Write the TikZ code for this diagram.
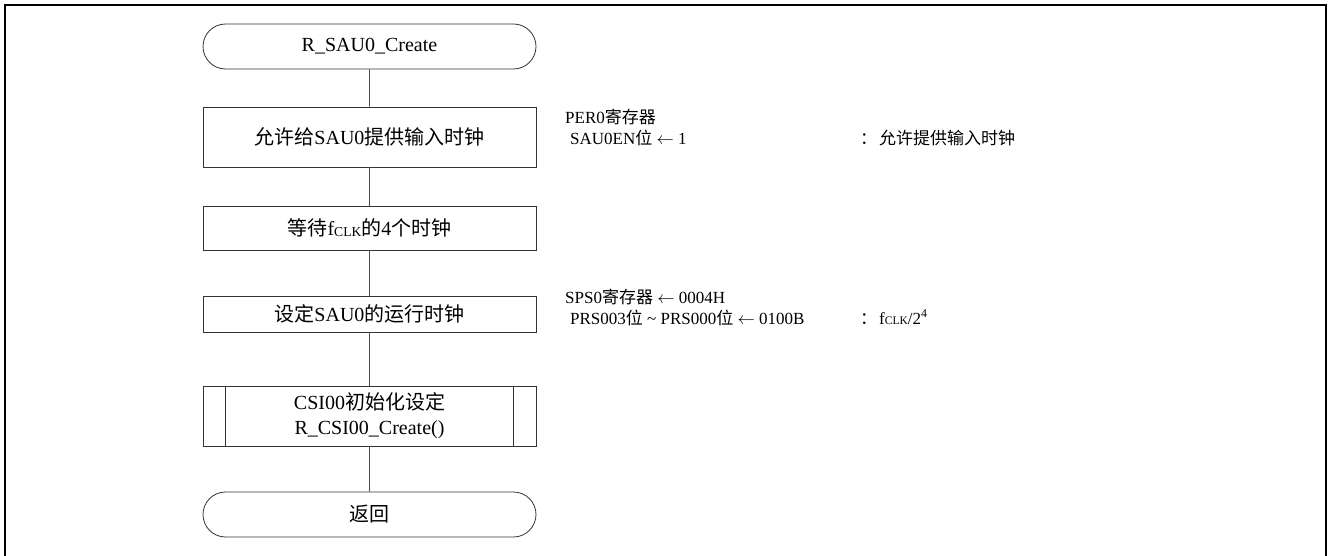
\documentclass[tikz,border=0pt]{standalone}
\usepackage{fontspec}
\setmainfont{Liberation Serif}
\newfontfamily\cjk{Noto Sans CJK SC}
\usetikzlibrary{shapes.misc}
\newcommand{\zh}[1]{{\cjk #1}}
\newcommand{\fclk}{f\raisebox{-0.5pt}{\fontsize{0.68em}{1em}\selectfont CLK}}
\begin{document}
\begin{tikzpicture}[x=1pt,y=-1pt,
  every node/.style={font=\fontsize{20}{25}\selectfont},
  term/.style={draw=black!80, line width=0.8pt, rounded rectangle, minimum width=333pt, minimum height=45pt, inner sep=0pt},
  proc/.style={draw=black!80, line width=0.8pt, rectangle, minimum width=333pt, inner sep=0pt, align=center},
  conn/.style={draw=black!70, line width=0.8pt},
  note/.style={anchor=base west, inner sep=0pt, font=\fontsize{17}{20}\selectfont}]
\useasboundingbox (0,0) rectangle (1328,556);
\draw[line width=2pt] (5,560) -- (5,5) -- (1326,5) -- (1326,560);

\node[term] (t1) at (369.5,46.5) {R\_SAU0\_Create};
\node[proc, minimum height=60pt] (b1) at (369.5,137) {\zh{允许给}SAU0\zh{提供输入时钟}};
\node[proc, minimum height=44pt] (b2) at (369.5,228) {\zh{等待}\fclk\zh{的}4\zh{个时钟}};
\node[proc, minimum height=36pt] (b3) at (369.5,314) {\zh{设定}SAU0\zh{的运行时钟}};
\node[proc, minimum height=60pt] (b4) at (369.5,416) {CSI00\zh{初始化设定}\\R\_CSI00\_Create()};
\draw[draw=black!80, line width=0.8pt] ([xshift=23pt]b4.north west) -- ([xshift=23pt]b4.south west);
\draw[draw=black!80, line width=0.8pt] ([xshift=-23pt]b4.north east) -- ([xshift=-23pt]b4.south east);
\node[term] (t2) at (369.5,514.5) {\zh{返回}};

\draw[conn] (t1) -- (b1);
\draw[conn] (b1) -- (b2);
\draw[conn] (b2) -- (b3);
\draw[conn] (b3) -- (b4);
\draw[conn] (b4) -- (t2);

\node[note] (n1) at (565,124) {PER0\zh{寄存器}};
\node[note] (n2) at (570,145) {SAU0EN\zh{位} $\leftarrow$ 1};
\node[note] (n3) at (860,145) {\zh{：}\hspace{2pt}\zh{允许提供输入时钟}};
\node[note] (n4) at (565,303) {SPS0\zh{寄存器} $\leftarrow$ 0004H};
\node[note] (n5) at (570,324) {PRS003\zh{位} \textasciitilde{} PRS000\zh{位} $\leftarrow$ 0100B};
\node[note] (n6) at (860,324) {\zh{：}\hspace{2pt}\fclk/2\textsuperscript{4}};
\end{tikzpicture}
\end{document}
